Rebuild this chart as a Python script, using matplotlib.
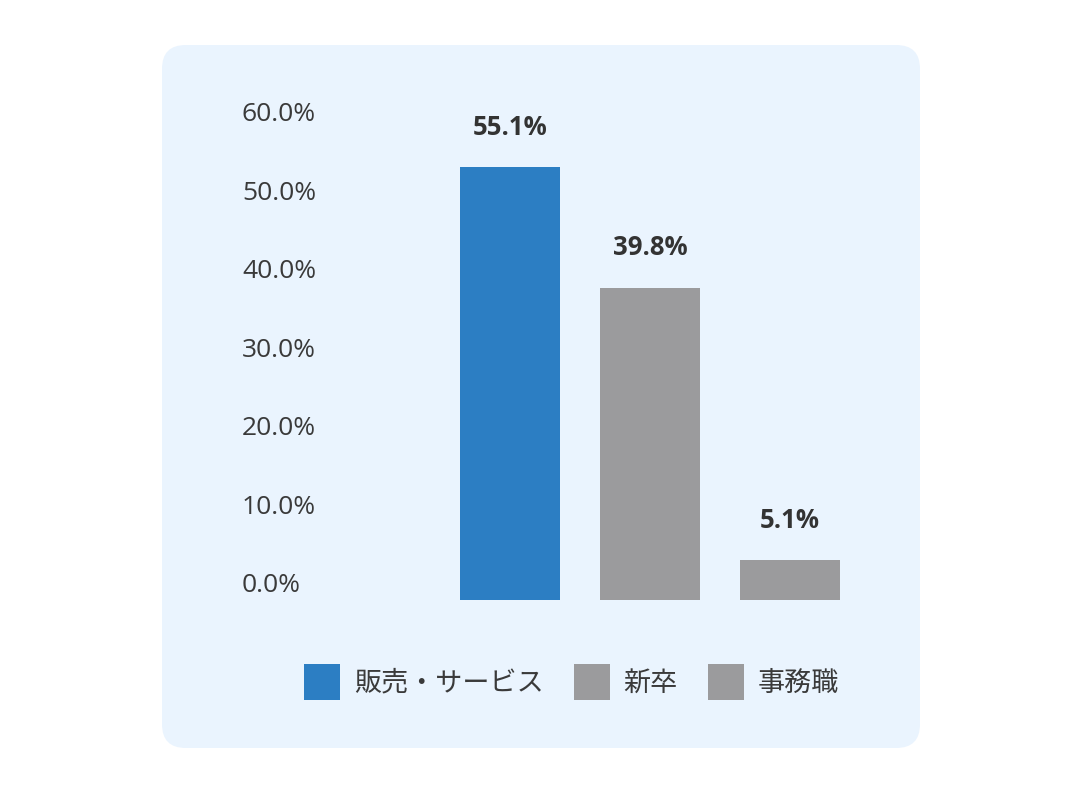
import matplotlib.pyplot as plt
from matplotlib.patches import FancyBboxPatch
from matplotlib.transforms import ScaledTranslation

plt.rcParams['font.family'] = ['Noto Sans CJK JP', 'DejaVu Sans']
num_font = ['Open Sans', 'DejaVu Sans']

# data
categories = ["販売・サービス", "新卒", "事務職"]
values = [55.1, 39.8, 5.1]
bar_colors = ["#2C7EC3", "#9B9B9D", "#9B9B9D"]
tick_values = [0, 10, 20, 30, 40, 50, 60]
tick_labels = ["0.0%", "10.0%", "20.0%", "30.0%", "40.0%", "50.0%", "60.0%"]

W, H = 1080, 798
fig = plt.figure(figsize=(W / 100, H / 100), dpi=100)
fig.patch.set_facecolor("white")

# rounded light blue panel
panel = FancyBboxPatch((162 / W, 1 - 748 / H), (920 - 162) / W, (748 - 45) / H,
                       boxstyle="round,pad=0,rounding_size=0.022",
                       transform=fig.transFigure, facecolor="#EAF4FE",
                       edgecolor="none", zorder=-5,
                       mutation_aspect=W / H)
fig.patches.append(panel)

# axes: left 300px, right 860px, top 100px, bottom 600px
px_per_pct = 7.85
ax = fig.add_axes([300 / W, 1 - 600 / H, 560 / W, 500 / H])
ax.set_facecolor("none")
ax.set_xlim(-1.5, 2.5)
ax.set_ylim(0, 500 / px_per_pct)

x = range(len(categories))
bars = ax.bar(x, values, width=100 / 140, color=bar_colors, zorder=2)

for b, v in zip(bars, values):
    ax.annotate(f"{v:.1f}%", (b.get_x() + b.get_width() / 2, v),
                xytext=(0, 19), textcoords="offset points",
                ha="center", va="bottom", fontsize=18.5, fontweight="bold",
                color="#333333", family=num_font)

ax.set_yticks(tick_values)
ax.set_yticklabels(tick_labels, fontsize=19, color="#3a3a3a", ha="left",
                   family=num_font)
ax.tick_params(axis="y", length=0, pad=41.8)
ax.set_xticks([])
for lab in ax.get_yticklabels():
    lab.set_transform(lab.get_transform() + ScaledTranslation(0, 12.5 / 72, fig.dpi_scale_trans))
for s in ax.spines.values():
    s.set_visible(False)

leg = fig.legend(bars, categories, loc="center",
                 bbox_to_anchor=(571.5 / W, 1 - 682 / H), ncol=3, frameon=False,
                 fontsize=19.5, handlelength=1.33, handleheight=1.67,
                 handletextpad=0.52, columnspacing=1.1, labelcolor="#3a3a3a")

fig.savefig("out.png", dpi=100, facecolor="white")
